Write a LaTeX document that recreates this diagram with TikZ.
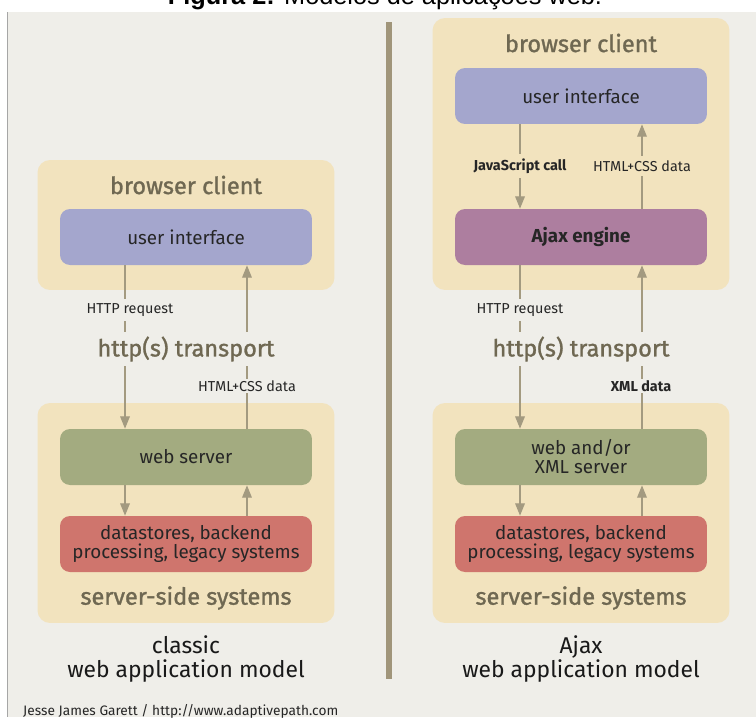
\documentclass[tikz,border=0pt]{standalone}
\usepackage{fontspec}
\setmainfont{Fira Sans}
\newfontfamily\titleFont{Liberation Sans}
\newfontfamily\headFont{Fira Sans}[FakeBold=1.3]
\usetikzlibrary{arrows.meta}
\definecolor{bgCol}{HTML}{EFEEE9}
\definecolor{panelCol}{HTML}{F2E3BE}
\definecolor{uiCol}{HTML}{A4A6CD}
\definecolor{ajaxCol}{HTML}{AD7E9F}
\definecolor{serverCol}{HTML}{A3AB80}
\definecolor{storeCol}{HTML}{CF756D}
\definecolor{arrowCol}{HTML}{A39A80}
\definecolor{headCol}{HTML}{6F6852}
\definecolor{barCol}{HTML}{A0957A}

\begin{document}
\begin{tikzpicture}[x=0.02cm,y=-0.02cm,
	panel/.style={fill=panelCol, rounded corners=0.25cm, minimum width=5.94cm},
	box/.style={fill=#1, rounded corners=0.2cm, minimum width=5.04cm, minimum height=1.12cm,
		align=center, text=black!85, font=\fontsize{10.7}{10.8}\selectfont},
	head/.style={text=headCol, font=\headFont\fontsize{13.4}{16}\selectfont},
	lbl/.style={fill=#1, inner xsep=1pt, inner ysep=2.5pt, text=black!85, font=\fontsize{8.2}{10}\selectfont},
	lbl/.default=bgCol,
	flow/.style={draw=arrowCol, line width=0.7pt, -{Triangle[length=7pt,width=5.5pt]}}]
	\pgfmathsetmacro{\armOff}{1.22}
	
	\useasboundingbox (0,0) rectangle (756,717);
	\fill[white] (0,0) rectangle (756,717);
	\fill[bgCol] (7,12) rectangle (756,717);
	\draw[black!35, line width=0.4pt] (7,12) -- (7,717);
	\node[anchor=base] (title) at (385,4) {\titleFont\fontsize{14.4}{16}\selectfont\textbf{Figura 2:} Modelos de aplicações web.};
	\fill[barCol] (386,22) rectangle (392,679);
	
	% Classic model
	\node[panel, minimum height=2.6cm] (bc1) at (186,225) {};
	\node[head] (bcHead1) at (186,185) {browser client};
	\node[box=uiCol] (ui1) at (186,237) {user interface};
	\node[panel, minimum height=4.4cm] (ss1) at (186,513) {};
	\node[box=serverCol] (ws1) at (186,457) {web server};
	\node[box=storeCol] (ds1) at (186,544) {datastores, backend\\processing, legacy systems};
	\node[head] (ssHead1) at (186,598) {server-side systems};
	
	\draw[flow] ([xshift=-\armOff cm]ui1.south) -- ([xshift=-\armOff cm]ws1.north);
	\draw[flow] ([xshift=\armOff cm]ws1.north) -- ([xshift=\armOff cm]ui1.south);
	\draw[flow] ([xshift=-\armOff cm]ws1.south) -- ([xshift=-\armOff cm]ds1.north);
	\draw[flow] ([xshift=\armOff cm]ds1.north) -- ([xshift=\armOff cm]ws1.south);
	
	\node[lbl] (req1) at (130,310) {HTTP request};
	\node[lbl, head] (tr1) at (186,349) {http(s) transport};
	\node[lbl, inner ysep=1pt] (html1) at (247,386) {HTML+CSS data};
	\node[align=center, font=\fontsize{13}{13.5}\selectfont, text=black!90] (cap1) at (186,659) {classic\\web application model};
	
	% Ajax model
	\node[panel, minimum height=5.44cm] (bc2) at (581,154) {};
	\node[head] (bcHead2) at (581,43) {browser client};
	\node[box=uiCol] (ui2) at (581,96) {user interface};
	\node[box=ajaxCol, font=\fontsize{10.7}{10.8}\selectfont\bfseries] (aj2) at (581,237) {Ajax engine};
	\node[panel, minimum height=4.4cm] (ss2) at (581,513) {};
	\node[box=serverCol] (ws2) at (581,457) {web and/or\\XML server};
	\node[box=storeCol] (ds2) at (581,544) {datastores, backend\\processing, legacy systems};
	\node[head] (ssHead2) at (581,598) {server-side systems};
	
	\draw[flow] ([xshift=-\armOff cm]ui2.south) -- ([xshift=-\armOff cm]aj2.north);
	\draw[flow] ([xshift=\armOff cm]aj2.north) -- ([xshift=\armOff cm]ui2.south);
	\draw[flow] ([xshift=-\armOff cm]aj2.south) -- ([xshift=-\armOff cm]ws2.north);
	\draw[flow] ([xshift=\armOff cm]ws2.north) -- ([xshift=\armOff cm]aj2.south);
	\draw[flow] ([xshift=-\armOff cm]ws2.south) -- ([xshift=-\armOff cm]ds2.north);
	\draw[flow] ([xshift=\armOff cm]ds2.north) -- ([xshift=\armOff cm]ws2.south);
	
	\node[lbl=panelCol, font=\fontsize{8.2}{10}\selectfont\bfseries] (js2) at (520,166) {JavaScript call};
	\node[lbl=panelCol] (html2) at (642,166) {HTML+CSS data};
	\node[lbl] (req2) at (520,310) {HTTP request};
	\node[lbl, head] (tr2) at (581,349) {http(s) transport};
	\node[lbl, inner ysep=1pt, font=\fontsize{8.2}{10}\selectfont\bfseries] (xml2) at (641,386) {XML data};
	\node[align=center, font=\fontsize{13}{13.5}\selectfont, text=black!90] (cap2) at (581,659) {Ajax\\web application model};
	
	\node[anchor=base west, font=\fontsize{7.8}{10}\selectfont, text=black!85] (credit) at (17,715) {Jesse James Garett / http://www.adaptivepath.com};
\end{tikzpicture}
\end{document}
